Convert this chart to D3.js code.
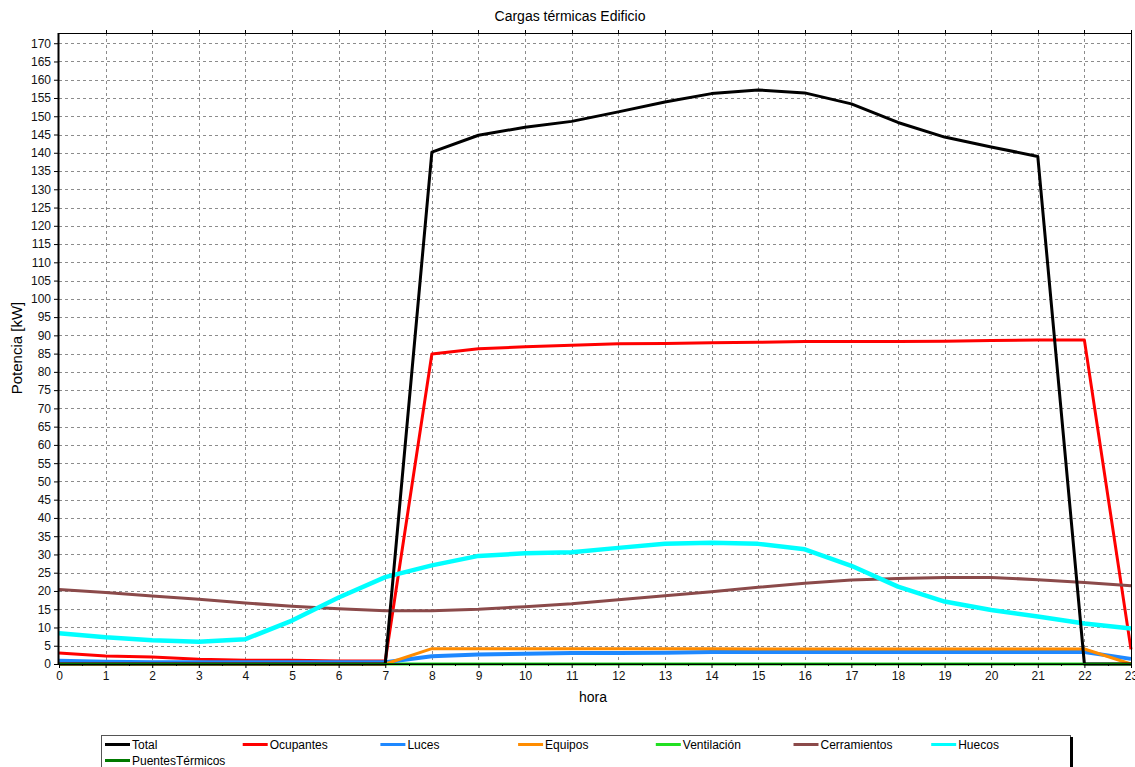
<!DOCTYPE html>
<html>
<head>
<meta charset="utf-8">
<script src="https://cdn.jsdelivr.net/npm/d3@7"></script>
<style>
  html, body { margin: 0; padding: 0; background: #fff; }
  svg { display: block; font-family: "Liberation Sans", Arial, sans-serif; }
</style>
</head>
<body>
<svg id="chart" width="1135" height="767"></svg>
<script>
// Hourly thermal loads of the building (kW), hours 0..23
const hours = d3.range(0, 24);

const total        = [0, 0, 0, 0, 0, 0, 0, 0, 140.2, 144.8, 147.0, 148.6, 151.2, 153.9, 156.2, 157.2, 156.4, 153.4, 148.3, 144.3, 141.6, 139.0, 0, 0];
const ocupantes    = [3.0, 2.2, 1.9, 1.3, 1.0, 1.0, 0.8, 0.8, 84.9, 86.3, 86.9, 87.3, 87.7, 87.8, 88.0, 88.1, 88.3, 88.3, 88.3, 88.4, 88.6, 88.7, 88.7, 4.0];
const luces        = [0.9, 0.6, 0.5, 0.5, 0.5, 0.5, 0.5, 0.5, 2.1, 2.6, 2.8, 3.0, 3.0, 3.1, 3.3, 3.3, 3.3, 3.3, 3.3, 3.3, 3.3, 3.3, 3.3, 1.4];
const equipos      = [0, 0, 0, 0, 0, 0, 0, 0, 4.2, 4.2, 4.2, 4.2, 4.2, 4.2, 4.2, 4.1, 4.1, 4.1, 4.1, 4.1, 4.1, 4.1, 4.1, 0];
const ventilacion  = [0, 0, 0, 0, 0, 0, 0, 0, 0, 0, 0, 0, 0, 0, 0, 0, 0, 0, 0, 0, 0, 0, 0, 0];
const cerramientos = [20.4, 19.6, 18.6, 17.7, 16.7, 15.8, 15.1, 14.6, 14.6, 15.0, 15.7, 16.5, 17.6, 18.7, 19.8, 21.0, 22.1, 23.0, 23.4, 23.7, 23.7, 23.1, 22.3, 21.4];
const huecos       = [8.4, 7.3, 6.5, 6.1, 6.8, 11.9, 18.2, 23.8, 27.0, 29.6, 30.3, 30.6, 31.8, 32.9, 33.2, 32.9, 31.4, 26.9, 21.2, 17.1, 14.8, 13.0, 11.1, 9.7];
const puentes      = [0, 0, 0, 0, 0, 0, 0, 0, 0, 0, 0, 0, 0, 0, 0, 0, 0, 0, 0, 0, 0, 0, 0, 0];

const seriesNames  = ["Total", "Ocupantes", "Luces", "Equipos", "Ventilación", "Cerramientos", "Huecos", "PuentesTérmicos"];
const seriesValues = [total, ocupantes, luces, equipos, ventilacion, cerramientos, huecos, puentes];
const seriesColors = ["#000000", "#ff0000", "#1e88ff", "#ff8c00", "#22e022", "#8b4a4a", "#00ffff", "#007a00"];
const seriesWidths = [3, 3, 4, 3, 3, 3, 4.5, 2];
// paint order (last is on top)
const drawOrder    = [4, 1, 5, 6, 2, 3, 0, 7];

const yTicks = d3.range(0, 171, 5);
const xTicks = d3.range(0, 24, 1);

const svg = d3.select("#chart");
const plot = { left: 59, right: 1131, top: 33, bottom: 664 };

const x = d3.scaleLinear().domain([0, 23]).range([plot.left, plot.right]);
const y = d3.scaleLinear().domain([0, 172.8]).range([plot.bottom, plot.top]);

// dashed grid
const grid = svg.append("g").attr("stroke", "#8c8c8c").attr("stroke-width", 1).attr("stroke-dasharray", "3,3");
grid.selectAll("line.h").data(yTicks.filter(v => v > 0)).join("line")
  .attr("x1", plot.left).attr("x2", plot.right)
  .attr("y1", d => Math.round(y(d)) + 0.5).attr("y2", d => Math.round(y(d)) + 0.5);
grid.selectAll("line.v").data(xTicks.filter(v => v > 0 && v < 23)).join("line")
  .attr("y1", plot.top).attr("y2", plot.bottom)
  .attr("x1", d => Math.round(x(d)) + 0.5).attr("x2", d => Math.round(x(d)) + 0.5);

// series lines
const line = d3.line().x((d, i) => x(hours[i])).y(d => y(d));
const lines = svg.append("g").attr("fill", "none").attr("stroke-linejoin", "round");
drawOrder.forEach(k => {
  lines.append("path")
    .datum(seriesValues[k])
    .attr("d", line)
    .attr("stroke", seriesColors[k])
    .attr("stroke-width", seriesWidths[k]);
});

// plot frame
svg.append("rect")
  .attr("x", plot.left - 0.5).attr("y", plot.top + 0.5)
  .attr("width", plot.right - plot.left + 1).attr("height", plot.bottom - plot.top)
  .attr("fill", "none").attr("stroke", "#000").attr("stroke-width", 1);
svg.append("line").attr("x1", plot.left - 0.5).attr("x2", plot.left - 0.5)
  .attr("y1", plot.top).attr("y2", plot.bottom + 1).attr("stroke", "#000").attr("stroke-width", 2);

// left axis
const yAxis = d3.axisLeft(y).tickValues(yTicks).tickSize(4).tickPadding(3).tickFormat(d3.format("d"));
const gy = svg.append("g").attr("transform", `translate(${plot.left - 1},0)`).call(yAxis);
gy.select(".domain").remove();
gy.selectAll("text").attr("font-size", 12).attr("fill", "#111");

// bottom axis with minor ticks
const xAxis = d3.axisBottom(x).tickValues(xTicks).tickSize(4).tickPadding(3).tickFormat(d3.format("d"));
const gx = svg.append("g").attr("transform", `translate(0,${plot.bottom})`).call(xAxis);
gx.select(".domain").remove();
gx.selectAll("text").attr("font-size", 12).attr("fill", "#111");
svg.append("g").attr("stroke", "#000").selectAll("line")
  .data(d3.range(0.5, 23, 1)).join("line")
  .attr("x1", d => Math.round(x(d)) + 0.5).attr("x2", d => Math.round(x(d)) + 0.5)
  .attr("y1", plot.bottom).attr("y2", plot.bottom + 2);

// top ticks
svg.append("g").attr("stroke", "#000").selectAll("line")
  .data(xTicks.filter(v => v > 0)).join("line")
  .attr("x1", d => Math.round(x(d)) + 0.5).attr("x2", d => Math.round(x(d)) + 0.5)
  .attr("y1", plot.top - 3).attr("y2", plot.top);

// titles
svg.append("text").attr("x", 570).attr("y", 21).attr("text-anchor", "middle")
  .attr("font-size", 14).attr("fill", "#000").text("Cargas térmicas Edificio");
svg.append("text").attr("x", 593).attr("y", 702).attr("text-anchor", "middle")
  .attr("font-size", 14).attr("fill", "#000").text("hora");
svg.append("text").attr("transform", `translate(22,348) rotate(-90)`).attr("text-anchor", "middle")
  .attr("font-size", 15).attr("fill", "#000").text("Potencia [kW]");

// legend
const legend = svg.append("g");
legend.append("rect").attr("x", 101.5).attr("y", 735.5).attr("width", 969).attr("height", 40)
  .attr("fill", "#fff").attr("stroke", "#555").attr("stroke-width", 1);
legend.append("line").attr("x1", 1071.5).attr("x2", 1071.5).attr("y1", 737).attr("y2", 767)
  .attr("stroke", "#000").attr("stroke-width", 3);
const colStep = 137.7;
seriesNames.forEach((name, i) => {
  const col = i % 7, row = Math.floor(i / 7);
  const lx = 105 + col * colStep, ly = 744.5 + row * 16;
  const g = legend.append("g");
  g.append("line").attr("x1", lx).attr("x2", lx + 25).attr("y1", ly).attr("y2", ly)
    .attr("stroke", seriesColors[i]).attr("stroke-width", 3);
  g.append("text").attr("x", lx + 27).attr("y", ly + 4.5).attr("font-size", 12).attr("fill", "#000").text(name);
});
</script>
</body>
</html>
